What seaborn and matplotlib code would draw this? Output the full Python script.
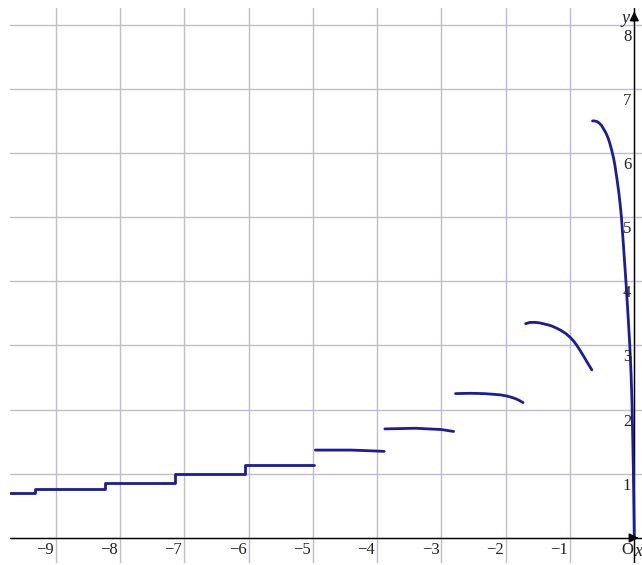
import matplotlib
matplotlib.use('Agg')
import matplotlib.pyplot as plt
import pandas as pd
import seaborn as sns

# step part (left)
step_x = [-9.71, -9.32, -8.23, -7.14, -6.05, -4.98]
step_y = [0.70, 0.76, 0.86, 0.99, 1.14, 1.14]

# separate arcs
seg2_x = [-4.96, -4.4, -3.89]
seg2_y = [1.37, 1.37, 1.35]
seg3_x = [-3.88, -3.4, -3.0, -2.81]
seg3_y = [1.70, 1.71, 1.69, 1.66]
seg4_x = [-2.78, -2.55, -2.34, -2.20, -2.08, -1.97, -1.87, -1.80, -1.73]
seg4_y = [2.25, 2.255, 2.25, 2.24, 2.23, 2.21, 2.18, 2.15, 2.11]
seg5_x = [-1.69, -1.62, -1.54, -1.46, -1.38, -1.30, -1.23, -1.15, -1.07,
          -1.00, -0.94, -0.90, -0.86, -0.82, -0.78, -0.74, -0.70, -0.66]
seg5_y = [3.34, 3.36, 3.36, 3.35, 3.33, 3.31, 3.28, 3.24, 3.19,
          3.13, 3.065, 3.01, 2.95, 2.885, 2.82, 2.75, 2.685, 2.62]
seg6_x = [-0.65, -0.62, -0.58, -0.55, -0.51, -0.48, -0.44, -0.41, -0.38,
          -0.35, -0.32, -0.30, -0.27, -0.24, -0.22, -0.20, -0.17, -0.13,
          -0.10, -0.07, -0.05, -0.035, -0.015, 0.0]
seg6_y = [6.50, 6.50, 6.49, 6.47, 6.43, 6.38, 6.31, 6.24, 6.15,
          6.04, 5.91, 5.80, 5.60, 5.38, 5.20, 5.00, 4.58, 4.00,
          3.52, 3.00, 2.55, 2.10, 1.10, 0.0]

x_ticks = [-9, -8, -7, -6, -5, -4, -3, -2, -1]
y_ticks = [1, 2, 3, 4, 5, 6, 7, 8]

LINE = '#1b1b9e'
GRID = '#bcbcd2'

sns.set_style('white')
plt.rcParams['font.family'] = ['Liberation Serif', 'DejaVu Serif']

fig = plt.figure(figsize=(6.42, 5.65), dpi=100)
ax = fig.add_axes([10 / 642, 2 / 565, 632 / 642, 555 / 565])

segs = []
for i, (xs, ys) in enumerate([(seg2_x, seg2_y), (seg3_x, seg3_y), (seg4_x, seg4_y),
                              (seg5_x, seg5_y), (seg6_x, seg6_y)]):
    segs.append(pd.DataFrame({'x': xs, 'y': ys, 'seg': i}))
df = pd.concat(segs, ignore_index=True)

sns.lineplot(x=step_x, y=step_y, ax=ax, color=LINE, lw=2, drawstyle='steps-post',
             estimator=None, sort=False)
sns.lineplot(data=df, x='x', y='y', units='seg', estimator=None, sort=False,
             ax=ax, color=LINE, lw=2)

ax.set_xlim(-9.71, 0.12)
ax.set_ylim(-0.39, 8.26)
ax.set_xticks(x_ticks + [0])
ax.set_yticks(y_ticks + [0])
ax.grid(True, color=GRID, lw=1)
ax.tick_params(length=0, labelbottom=False, labelleft=False)
for s in ax.spines.values():
    s.set_visible(False)
ax.set_xlabel('')
ax.set_ylabel('')

# axes through the origin with arrows
ax.axhline(0, color='black', lw=1, zorder=1)
ax.axvline(0, color='black', lw=1, zorder=1)
ax.annotate('', xy=(0.11, 0), xytext=(0.0, 0),
            arrowprops=dict(arrowstyle='-|>', color='black', lw=1, mutation_scale=14))
ax.annotate('', xy=(0, 8.25), xytext=(0, 8.0),
            arrowprops=dict(arrowstyle='-|>', color='black', lw=1, mutation_scale=14))

TXT = '#222222'
for t in x_ticks:
    ax.annotate('\u2212' + str(-t), (t, 0), xytext=(-2, -4), textcoords='offset pixels',
                ha='right', va='top', fontsize=12, color=TXT)
for t in y_ticks:
    ax.annotate(str(t), (0, t), xytext=(-3, -4), textcoords='offset pixels',
                ha='right', va='top', fontsize=12, color=TXT)
ax.annotate('O', (0, 0), xytext=(-1, -4), textcoords='offset pixels',
            ha='right', va='top', fontsize=12, color=TXT)
ax.annotate('x', (0, 0), xytext=(0, -5), textcoords='offset pixels',
            ha='left', va='top', fontsize=13, style='italic', color=TXT)
ax.annotate('y', (0, 8.26), xytext=(-5, -2), textcoords='offset pixels',
            ha='right', va='top', fontsize=13, style='italic', color=TXT)

fig.savefig('out.png', dpi=100)
